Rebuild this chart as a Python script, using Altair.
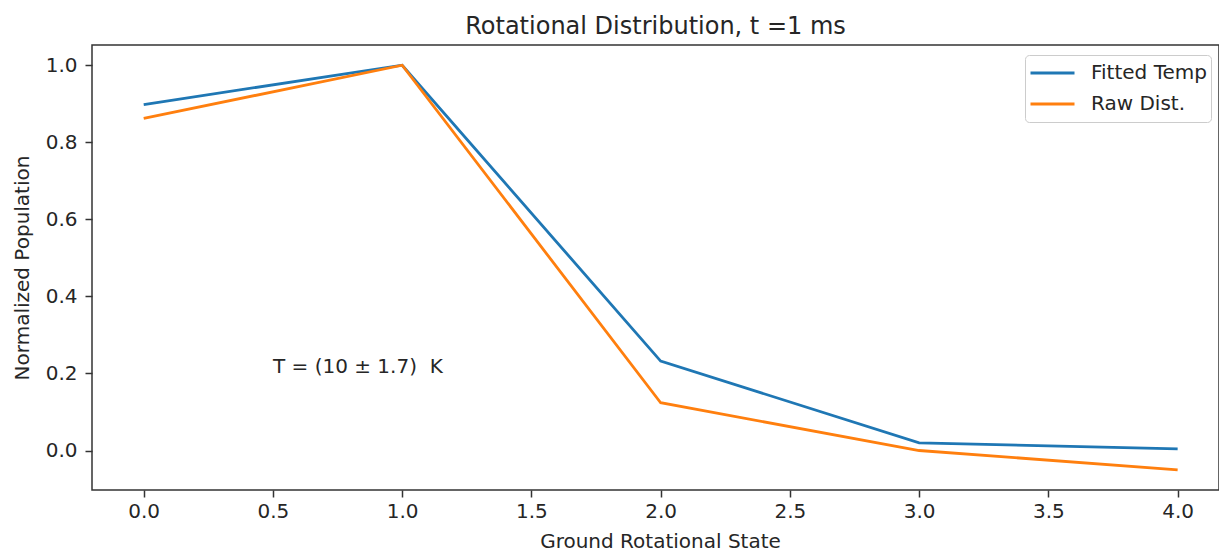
import altair as alt
import pandas as pd

# ---- data ----
states = [0, 1, 2, 3, 4]
fitted_temp = [0.898, 1.0, 0.232, 0.020, 0.004]
raw_dist = [0.862, 1.0, 0.124, 0.0, -0.050]
series_names = ["Fitted Temp", "Raw Dist."]
series_colors = ["#1f77b4", "#ff7f0e"]

x_ticks = [0.0, 0.5, 1.0, 1.5, 2.0, 2.5, 3.0, 3.5, 4.0]
y_ticks = [0.0, 0.2, 0.4, 0.6, 0.8, 1.0]

note_x = [0.5]
note_y = [0.2]
note_text = ["T = (10 \u00b1 1.7) \u00a0K"]

FONT = "DejaVu Sans"
TXT = "#262626"

rows = []
for name, vals in zip(series_names, [fitted_temp, raw_dist]):
    for s, v in zip(states, vals):
        rows.append({"state": s, "pop": v, "series": name})
df = pd.DataFrame(rows)
note_df = pd.DataFrame({"x": note_x, "y": note_y, "label": note_text})

W, H = 1127, 445

xscale = alt.Scale(domain=[-0.2, 4.16], nice=False, zero=False)
yscale = alt.Scale(domain=[-0.1025, 1.0525], nice=False, zero=False)

lines = alt.Chart(df).mark_line(strokeWidth=2.8).encode(
    x=alt.X("state:Q", scale=xscale,
            axis=alt.Axis(values=x_ticks, format=".1f", title="Ground Rotational State",
                          titleX=568, titleY=51, titleBaseline="middle")),
    y=alt.Y("pop:Q", scale=yscale,
            axis=alt.Axis(values=y_ticks, format=".1f", title="Normalized Population",
                          titleX=-70, titleY=H / 2, titleAngle=-90,
                          titleAlign="center", titleBaseline="middle")),
    color=alt.Color("series:N",
                    scale=alt.Scale(domain=series_names, range=series_colors),
                    legend=alt.Legend(title=None, orient="none", legendX=933, legendY=10,
                                      symbolType="stroke", symbolSize=1936,
                                      symbolStrokeWidth=2.8, labelOffset=15,
                                      labelFontSize=20, labelFont=FONT, labelColor=TXT,
                                      padding=4, rowPadding=3, clipHeight=28,
                                      strokeColor="#cccccc", fillColor="white",
                                      cornerRadius=4)),
    order="state:Q",
)

note = alt.Chart(note_df).mark_text(align="left", baseline="alphabetic",
                                    fontSize=20, font=FONT, color=TXT).encode(
    x=alt.X("x:Q", scale=xscale),
    y=alt.Y("y:Q", scale=yscale),
    text="label:N",
)

chart = alt.layer(lines, note).properties(
    width=W, height=H,
    title=alt.TitleParams("Rotational Distribution, t =1 ms", anchor="middle",
                          fontSize=24, font=FONT, fontWeight="normal", color=TXT,
                          offset=6),
    autosize=alt.AutoSizeParams(type="none"),
    padding={"left": 92, "top": 45, "right": 0, "bottom": 62},
).configure_view(
    stroke="#333333", strokeWidth=1.5
).configure_axis(
    grid=False, domain=False, tickSize=7, tickColor="#333333", tickWidth=1.5,
    labelFont=FONT, labelFontSize=20, labelColor=TXT,
    titleFont=FONT, titleFontSize=20, titleColor=TXT, titleFontWeight="normal",
).configure_axisX(
    labelPadding=4
).configure_axisY(
    labelPadding=8
)

chart.save("out.html", embed_options={"renderer": "svg", "actions": False})
